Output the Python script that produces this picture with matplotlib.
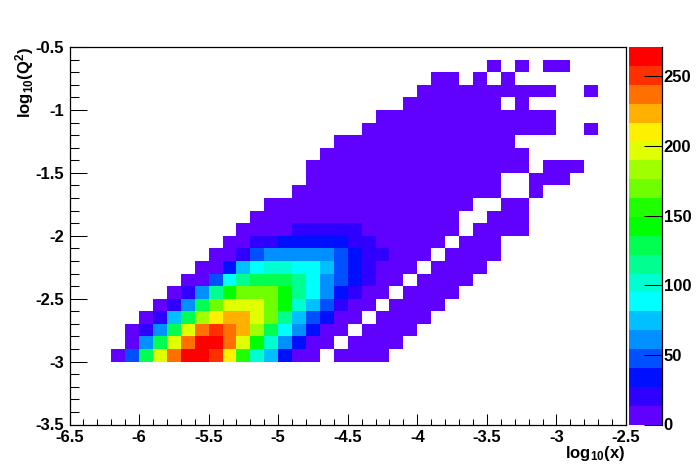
#!/usr/bin/env python3
"""log10(x) vs log10(Q^2) occupancy map, ROOT COLZ look."""

import numpy as np
import matplotlib
matplotlib.use("Agg")
import matplotlib.pyplot as plt
from matplotlib.colors import BoundaryNorm, ListedColormap
from matplotlib.ticker import MultipleLocator

plt.rcParams["font.family"] = ["Liberation Sans", "DejaVu Sans"]
plt.rcParams["font.weight"] = "bold"
plt.rcParams["mathtext.fontset"] = "custom"
plt.rcParams["mathtext.bf"] = "Liberation Sans:bold"
plt.rcParams["mathtext.rm"] = "Liberation Sans:bold"

# ------------- Bin counts, one list per Q2 row, trailing empties left out ------------- #

q2_m30 = [0, 0, 0, 7, 47, 129, 197, 237, 265, 265, 251, 210, 156, 102, 75, 34, 7, 7, 0, 7, 7, 7, 7]
q2_m29 = [0, 0, 0, 0, 7, 61, 129, 197, 237, 265, 265, 237, 197, 142, 102, 61, 34, 7, 7, 0, 7, 7, 7, 7]
q2_m28 = [0, 0, 0, 0, 7, 20, 61, 129, 197, 237, 251, 237, 224, 183, 129, 88, 61, 34, 7, 7, 0, 7, 7, 7, 7]
q2_m27 = [0, 0, 0, 0, 0, 7, 20, 75, 129, 183, 210, 224, 224, 197, 169, 115, 75, 47, 34, 7, 7, 0, 7, 7, 7, 7]
q2_m26 = [0, 0, 0, 0, 0, 0, 7, 20, 61, 129, 169, 197, 197, 197, 169, 142, 102, 75, 47, 20, 7, 7, 0, 7, 7, 7, 7]
q2_m25 = [0, 0, 0, 0, 0, 0, 0, 7, 20, 61, 115, 142, 169, 169, 169, 142, 115, 88, 61, 34, 20, 7, 7, 0, 7, 7, 7, 7]
q2_m24 = [0, 0, 0, 0, 0, 0, 0, 0, 7, 7, 47, 88, 115, 129, 129, 129, 115, 88, 61, 47, 34, 20, 7, 7, 0, 7, 7, 7, 7]
q2_m23 = [0, 0, 0, 0, 0, 0, 0, 0, 0, 7, 7, 34, 75, 88, 102, 102, 88, 88, 75, 47, 34, 20, 7, 7, 7, 0, 7, 7, 7, 7]
q2_m22 = [0, 0, 0, 0, 0, 0, 0, 0, 0, 0, 7, 7, 20, 47, 61, 61, 61, 61, 61, 47, 34, 20, 20, 7, 7, 7, 0, 7, 7, 7, 7]
q2_m21 = [0, 0, 0, 0, 0, 0, 0, 0, 0, 0, 0, 7, 7, 20, 20, 34, 34, 34, 34, 34, 20, 20, 7, 7, 7, 7, 7, 0, 7, 7, 7]
q2_m20 = [0, 0, 0, 0, 0, 0, 0, 0, 0, 0, 0, 0, 7, 7, 7, 7, 20, 20, 20, 20, 20, 7, 7, 7, 7, 7, 7, 7, 0, 7, 7, 7, 7]
q2_m19 = [0, 0, 0, 0, 0, 0, 0, 0, 0, 0, 0, 0, 0, 7, 7, 7, 7, 7, 7, 7, 7, 7, 7, 7, 7, 7, 7, 7, 0, 0, 7, 7, 7]
q2_m18 = [0, 0, 0, 0, 0, 0, 0, 0, 0, 0, 0, 0, 0, 0, 7, 7, 7, 7, 7, 7, 7, 7, 7, 7, 7, 7, 7, 7, 7, 0, 0, 7, 7]
q2_m17 = [0, 0, 0, 0, 0, 0, 0, 0, 0, 0, 0, 0, 0, 0, 0, 0, 7, 7, 7, 7, 7, 7, 7, 7, 7, 7, 7, 7, 7, 7, 7, 0, 0, 7]
q2_m16 = [0, 0, 0, 0, 0, 0, 0, 0, 0, 0, 0, 0, 0, 0, 0, 0, 0, 7, 7, 7, 7, 7, 7, 7, 7, 7, 7, 7, 7, 7, 7, 0, 0, 7, 7, 7]
q2_m15 = [0, 0, 0, 0, 0, 0, 0, 0, 0, 0, 0, 0, 0, 0, 0, 0, 0, 7, 7, 7, 7, 7, 7, 7, 7, 7, 7, 7, 7, 7, 7, 7, 7, 0, 7, 7, 7]
q2_m14 = [0, 0, 0, 0, 0, 0, 0, 0, 0, 0, 0, 0, 0, 0, 0, 0, 0, 0, 7, 7, 7, 7, 7, 7, 7, 7, 7, 7, 7, 7, 7, 7, 7]
q2_m13 = [0, 0, 0, 0, 0, 0, 0, 0, 0, 0, 0, 0, 0, 0, 0, 0, 0, 0, 0, 7, 7, 7, 7, 7, 7, 7, 7, 7, 7, 7, 7, 7]
q2_m12 = [0, 0, 0, 0, 0, 0, 0, 0, 0, 0, 0, 0, 0, 0, 0, 0, 0, 0, 0, 0, 0, 7, 7, 7, 7, 7, 7, 7, 7, 7, 7, 7, 7, 7, 7, 0, 0, 7]
q2_m11 = [0, 0, 0, 0, 0, 0, 0, 0, 0, 0, 0, 0, 0, 0, 0, 0, 0, 0, 0, 0, 0, 0, 7, 7, 7, 7, 7, 7, 7, 7, 7, 7, 7, 7, 7]
q2_m10 = [0, 0, 0, 0, 0, 0, 0, 0, 0, 0, 0, 0, 0, 0, 0, 0, 0, 0, 0, 0, 0, 0, 0, 0, 7, 7, 7, 7, 7, 7, 7, 0, 7]
q2_m09 = [0, 0, 0, 0, 0, 0, 0, 0, 0, 0, 0, 0, 0, 0, 0, 0, 0, 0, 0, 0, 0, 0, 0, 0, 0, 7, 7, 7, 7, 7, 7, 7, 7, 7, 7, 0, 0, 7]
q2_m08 = [0, 0, 0, 0, 0, 0, 0, 0, 0, 0, 0, 0, 0, 0, 0, 0, 0, 0, 0, 0, 0, 0, 0, 0, 0, 0, 7, 7, 0, 7, 0, 7]
q2_m07 = [0, 0, 0, 0, 0, 0, 0, 0, 0, 0, 0, 0, 0, 0, 0, 0, 0, 0, 0, 0, 0, 0, 0, 0, 0, 0, 0, 0, 0, 0, 7, 0, 7, 0, 7, 7]

q2_rows = [q2_m30, q2_m29, q2_m28, q2_m27, q2_m26, q2_m25, q2_m24, q2_m23, q2_m22,
           q2_m21, q2_m20, q2_m19, q2_m18, q2_m17, q2_m16, q2_m15, q2_m14, q2_m13,
           q2_m12, q2_m11, q2_m10, q2_m09, q2_m08, q2_m07]

z_max = 271
palette = ["#6000ff", "#3000ff", "#0010ff", "#0050ff", "#0090ff", "#00c0ff", "#00ffff",
           "#00ffd0", "#00ff90", "#00ff50", "#00ff00", "#20ff00", "#70ff00", "#a0ff00",
           "#e0ff00", "#fff000", "#ffb000", "#ff7000", "#ff3000", "#ff0000"]
cbar_ticks = [0, 50, 100, 150, 200, 250]

# ------------- Build the grid ------------- #

W, H = 696, 472
LABEL_SIZE = 12
x_edges = np.linspace(-6.5, -2.5, 41)
y_edges = np.linspace(-3.5, -0.5, 31)

grid = np.zeros((30, 40))
for i, row in enumerate(q2_rows):
    grid[i + 5, :len(row)] = row
grid = np.ma.masked_equal(grid, 0)

cmap = ListedColormap(palette)
cmap.set_bad("white")
norm = BoundaryNorm(np.linspace(0, z_max, len(palette) + 1), len(palette))

# ------------- Plot ------------- #

fig = plt.figure(figsize=(W / 100, H / 100), dpi=100)
ax = fig.add_axes([69.5 / W, 1 - 424.5 / H, 556.5 / W, 377.5 / H])
mesh = ax.pcolormesh(x_edges, y_edges, grid, cmap=cmap, norm=norm, linewidth=0, rasterized=True)

ax.set_xlim(-6.5, -2.5)
ax.set_ylim(-3.5, -0.5)
ax.xaxis.set_major_locator(MultipleLocator(0.5))
ax.xaxis.set_minor_locator(MultipleLocator(0.1))
ax.yaxis.set_major_locator(MultipleLocator(0.5))
ax.yaxis.set_minor_locator(MultipleLocator(0.1))
ax.xaxis.set_major_formatter(lambda v, pos: f"{v:g}")
ax.yaxis.set_major_formatter(lambda v, pos: f"{v:g}")
ax.tick_params(axis="x", which="major", direction="in", length=8, width=0.75, labelsize=LABEL_SIZE, pad=4)
ax.tick_params(axis="x", which="minor", direction="in", length=4, width=0.75)
ax.tick_params(axis="y", which="major", direction="in", length=12.5, width=0.75, labelsize=LABEL_SIZE, pad=4)
ax.tick_params(axis="y", which="minor", direction="in", length=6.2, width=0.75)
for spine in ax.spines.values():
    spine.set_linewidth(0.9)

# Palette axis on the right
cax = fig.add_axes([629 / W, 1 - 424.5 / H, 32.5 / W, 377.5 / H])
cb = fig.colorbar(mesh, cax=cax, spacing="proportional", ticks=cbar_ticks)
cb.outline.set_visible(False)
cb.minorticks_off()
cax.spines["right"].set_visible(True)
cax.spines["right"].set_linewidth(0.9)
cax.tick_params(axis="y", which="major", direction="in", length=12.8, width=0.75, labelsize=LABEL_SIZE, pad=1.5, right=True)

fig.text(625 / W, 1 - 458 / H, r"$\mathbf{log_{10}(x)}$", ha="right", va="baseline", fontsize=LABEL_SIZE)
fig.text(30 / W, 1 - 47 / H, r"$\mathbf{log_{10}(Q^{2})}$", ha="right", va="baseline",
         rotation=90, rotation_mode="anchor", fontsize=LABEL_SIZE)

fig.savefig("out.png", dpi=100)
